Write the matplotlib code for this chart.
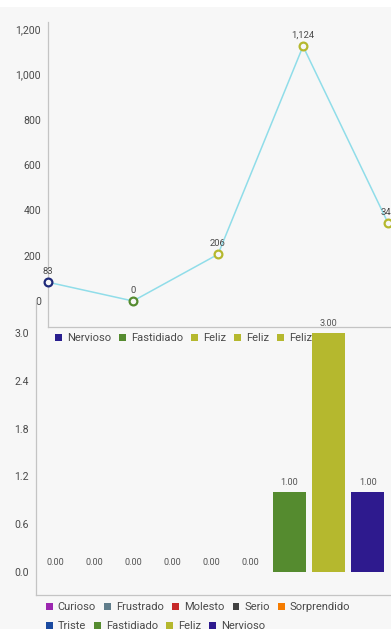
import numpy as np
import matplotlib
matplotlib.use("Agg")
import matplotlib.pyplot as plt
from matplotlib.patches import Patch, Rectangle
from matplotlib.ticker import FuncFormatter

W, H = 391, 629

# line chart data
line_vals = [83, 0, 206, 1124, 344]
line_cols = ["#1f2a7a", "#558b2f", "#b5b82e", "#b5b82e", "#b5b82e"]
line_ticks = [0, 200, 400, 600, 800, 1000, 1200]
top_legend = ["Nervioso", "Fastidiado", "Feliz", "Feliz", "Feliz"]
top_legend_cols = ["#2a1f8f", "#558b2f", "#b5b82e", "#b5b82e", "#b5b82e"]

# bar chart data
bar_vals = [0, 0, 0, 0, 0, 0, 1, 3, 1]
bar_cols = ["#9c27b0", "#607d8b", "#c62828", "#424242", "#f57c00",
            "#1a4aa0", "#558b2f", "#b5b82e", "#2e1a8e"]
bar_ticks = [0.0, 0.6, 1.2, 1.8, 2.4, 3.0]
leg_row1 = ["Curioso", "Frustrado", "Molesto", "Serio", "Sorprendido"]
leg_row1_cols = ["#9c27b0", "#607d8b", "#c62828", "#424242", "#f57c00"]
leg_row2 = ["Triste", "Fastidiado", "Feliz", "Nervioso"]
leg_row2_cols = ["#1a4aa0", "#558b2f", "#b5b82e", "#2e1a8e"]

BG = "#f7f7f7"
AXC = "#c4c4c4"
INK = "#4a4a4a"
plt.rcParams.update({"font.family": ["Roboto", "DejaVu Sans"], "font.size": 8})


def rect(l, t, r, b):
    return [l / W, 1 - b / H, (r - l) / W, (b - t) / H]


fig = plt.figure(figsize=(W / 100, H / 100), dpi=100, facecolor=BG)
fig.add_artist(Rectangle((0, 1 - 7 / H), 1, 7 / H, transform=fig.transFigure,
                         color="white", lw=0))

# ---- top line chart
ax = fig.add_axes(rect(48, 22, 391, 327))
ax.patch.set_alpha(0)
x = np.arange(len(line_vals))
ax.plot(x, line_vals, color="#90dde9", lw=1.1, zorder=2, clip_on=False)
for xi, v, c in zip(x, line_vals, line_cols):
    ax.plot(xi, v, "o", ms=5.6, mfc=BG, mec=c, mew=1.6, zorder=3, clip_on=False)
    ax.annotate(f"{v:,}", (xi, v), textcoords="offset points", xytext=(0, 4.5),
                ha="center", va="bottom", fontsize=6.8, color=INK,
                annotation_clip=False)
ax.set_xlim(0, 4.035)
ax.set_ylim(-114.7, 1230.9)
ax.set_yticks(line_ticks)
ax.yaxis.set_major_formatter(FuncFormatter(lambda v, p: f"{int(v):,}"))
ax.set_xticks([])
ax.tick_params(axis="y", length=0, pad=5, labelsize=7.6, labelcolor=INK)
for s in ("top", "right"):
    ax.spines[s].set_visible(False)
for s in ("left", "bottom"):
    ax.spines[s].set_color(AXC)
    ax.spines[s].set_linewidth(0.9)

# ---- bottom bar chart
bx = fig.add_axes(rect(36, 300, 391, 595))
bx.patch.set_alpha(0)
bpos = np.arange(len(bar_vals))
bars = bx.bar(bpos, bar_vals, width=0.84, color=bar_cols, zorder=2)
for xi, v in zip(bpos, bar_vals):
    bx.annotate(f"{v:.2f}", (xi, v), textcoords="offset points", xytext=(0, 3.5),
                ha="center", va="bottom", fontsize=6.6, color="#555555",
                annotation_clip=False)
bx.set_xlim(-0.486, 8.593)
bx.set_ylim(-0.289, 3.414)
bx.set_yticks(bar_ticks)
bx.yaxis.set_major_formatter(FuncFormatter(lambda v, p: f"{v:.1f}"))
bx.set_xticks([])
bx.tick_params(axis="y", length=0, pad=5, labelsize=7.6, labelcolor=INK)
for s in ("top", "right"):
    bx.spines[s].set_visible(False)
for s in ("left", "bottom"):
    bx.spines[s].set_color(AXC)
    bx.spines[s].set_linewidth(0.9)


def legend_row(labels, cols, left, ycen):
    handles = [Patch(facecolor=c, edgecolor="none") for c in cols]
    fig.legend(handles, labels, loc="center left",
               bbox_to_anchor=(left / W, 1 - ycen / H), ncol=len(labels),
               frameon=False, fontsize=8, handlelength=0.6, handleheight=0.6,
               handletextpad=0.45, columnspacing=0.75, borderpad=0,
               borderaxespad=0, labelcolor=INK)


legend_row(top_legend, top_legend_cols, 55, 338)
legend_row(leg_row1, leg_row1_cols, 46, 607)
legend_row(leg_row2, leg_row2_cols, 46, 626)

fig.savefig("out.png", dpi=100, facecolor=BG)
